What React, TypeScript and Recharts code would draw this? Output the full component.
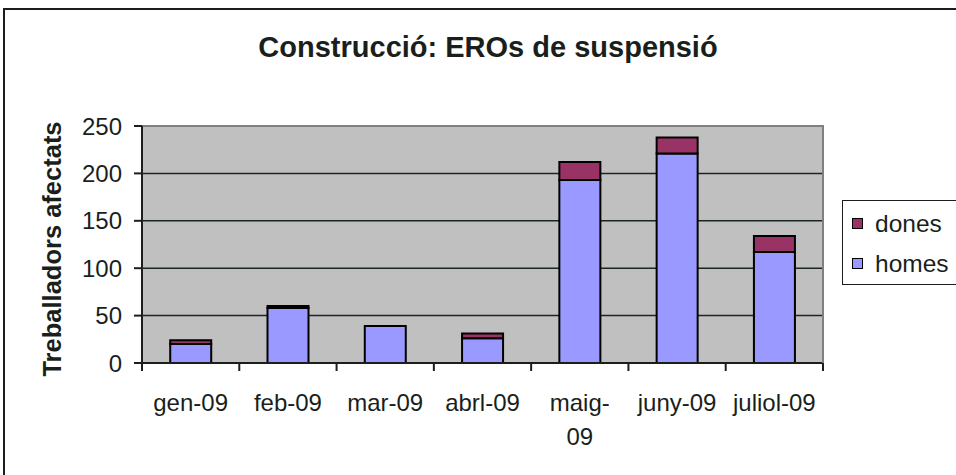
import React from 'react';
import { BarChart, Bar, XAxis, YAxis, CartesianGrid, ReferenceLine } from 'recharts';

const months = ['gen-09', 'feb-09', 'mar-09', 'abrl-09', 'maig-09', 'juny-09', 'juliol-09'];
const tickLabels = ['gen-09', 'feb-09', 'mar-09', 'abrl-09', 'maig-\n09', 'juny-09', 'juliol-09'];
const homes = [20, 58, 39, 26, 193, 221, 117];
const dones = [4, 2, 0, 5, 19, 17, 17];
const yTicks = [0, 50, 100, 150, 200, 250];

const data = months.map((m, i) => ({ month: m, homes: homes[i], dones: dones[i] }));

const FONT = '"Liberation Sans", Arial, sans-serif';
const TEXT = '#1a1f1c';
const PLOT_LEFT = 142;
const PLOT_RIGHT = 823;
const BAND = (PLOT_RIGHT - PLOT_LEFT) / months.length;

const XTick = (props: any) => {
  const { x, y, index } = props;
  const lines = tickLabels[index].split('\n');
  const left = x - BAND / 2;
  const right = x + BAND / 2;
  return (
    <g>
      <line x1={left} x2={left} y1={y} y2={y + 8} stroke="#1a1f1c" strokeWidth={2} />
      {index === months.length - 1 && (
        <line x1={right} x2={right} y1={y} y2={y + 8} stroke="#1a1f1c" strokeWidth={2} />
      )}
      {lines.map((l, i) => (
        <text key={i} x={x} y={y + 48 + i * 34} textAnchor="middle" fontSize={24} fill={TEXT} fontFamily={FONT}>
          {l}
        </text>
      ))}
    </g>
  );
};

export default function App() {
  return (
    <div style={{ position: 'fixed', left: 0, top: 0, width: 956, height: 475, background: '#fff', fontFamily: FONT, overflow: 'hidden' }}>
      <BarChart
        width={956}
        height={475}
        data={data}
        margin={{ top: 126, right: 133, left: 62, bottom: 52 }}
        barCategoryGap="29%"
        style={{ position: 'absolute', left: 0, top: 0 }}
      >
        <CartesianGrid vertical={false} stroke="#1c2620" strokeWidth={1.5} fill="#C0C0C0" fillOpacity={1} />
        <XAxis
          dataKey="month"
          height={60}
          interval={0}
          tickLine={false}
          tickSize={0}
          tickMargin={0}
          axisLine={{ stroke: '#1a1f1c', strokeWidth: 2 }}
          tick={<XTick />}
        />
        <YAxis
          width={80}
          domain={[0, 250]}
          ticks={yTicks}
          interval={0}
          tickSize={8}
          tickMargin={12}
          axisLine={{ stroke: '#1a1f1c', strokeWidth: 2 }}
          tickLine={{ stroke: '#1a1f1c', strokeWidth: 2 }}
          tick={{ fontSize: 24, fill: TEXT, fontFamily: FONT }}
        />
        <ReferenceLine y={250} stroke="#808080" strokeWidth={2} />
        <Bar dataKey="homes" stackId="a" fill="#9999FF" stroke="#000" strokeWidth={2} isAnimationActive={false} />
        <Bar dataKey="dones" stackId="a" fill="#993366" stroke="#000" strokeWidth={2} isAnimationActive={false} />
      </BarChart>
      <div style={{ position: 'absolute', left: 3, top: 8, width: 2, height: 467, background: '#1a1f1c' }} />
      <div style={{ position: 'absolute', left: 3, top: 8, width: 953, height: 2, background: '#1a1f1c' }} />
      <div style={{ position: 'absolute', left: 822, top: 125, width: 2, height: 238, background: '#808080' }} />
      <div style={{ position: 'absolute', left: 488, top: 31, transform: 'translateX(-50%)', whiteSpace: 'nowrap', fontSize: 29, fontWeight: 'bold', lineHeight: '32px', color: TEXT }}>
        Construcció: EROs de suspensió
      </div>
      <div style={{ position: 'absolute', left: 52, top: 249, transform: 'translate(-50%, -50%) rotate(-90deg)', whiteSpace: 'nowrap', fontSize: 25.5, fontWeight: 'bold', lineHeight: '28px', color: TEXT }}>
        Treballadors afectats
      </div>
      <div style={{ position: 'absolute', left: 842, top: 200, width: 130, height: 85, border: '1.5px solid #1a1f1c', boxSizing: 'border-box' }}>
        <div style={{ position: 'absolute', left: 9, top: 17, width: 9, height: 9, background: '#993366', border: '1.5px solid #000' }} />
        <div style={{ position: 'absolute', left: 32, top: 9, fontSize: 24.5, lineHeight: '28px', color: TEXT }}>dones</div>
        <div style={{ position: 'absolute', left: 9, top: 57, width: 9, height: 9, background: '#9999FF', border: '1.5px solid #000' }} />
        <div style={{ position: 'absolute', left: 32, top: 49, fontSize: 24.5, lineHeight: '28px', color: TEXT }}>homes</div>
      </div>
    </div>
  );
}
